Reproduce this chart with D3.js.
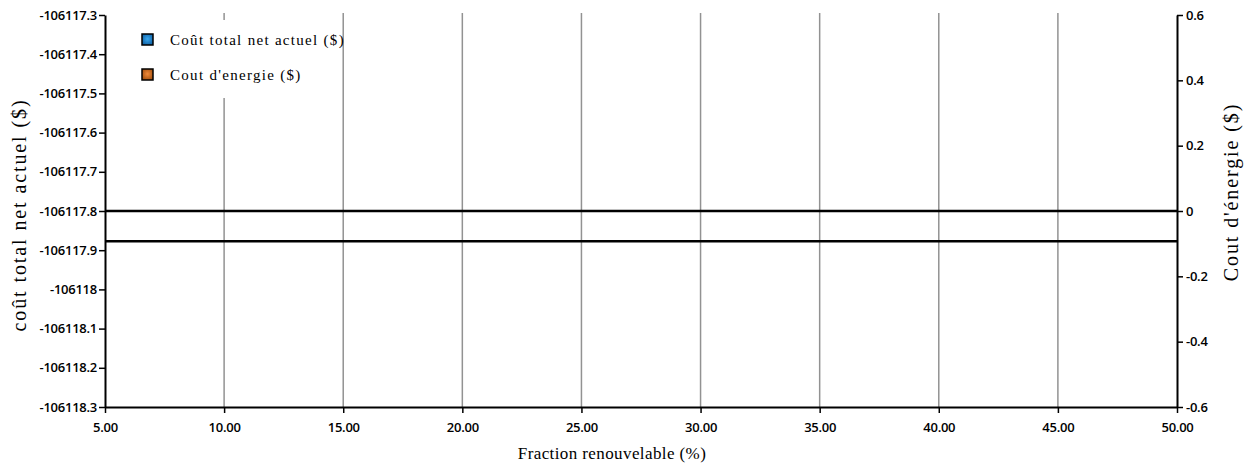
<!DOCTYPE html>
<html>
<head>
<meta charset="utf-8">
<script src="https://cdn.jsdelivr.net/npm/d3@7"></script>
<style>
  html, body { margin: 0; padding: 0; background: #fff; }
  svg { display: block; }
  .tick text { font-family: "Open Sans", "Liberation Sans", sans-serif; font-size: 13px; font-weight: 600; fill: #000; letter-spacing: -0.25px; }
  .title { font-family: "Liberation Serif", "DejaVu Serif", serif; fill: #000; }
  .xtitle { font-size: 17px; letter-spacing: 0.4px; }
  .ytitle { font-size: 20px; letter-spacing: 1.9px; }
  .legend text { font-family: "Liberation Serif", "DejaVu Serif", serif; font-size: 15px; letter-spacing: 1.3px; fill: #000; }
</style>
</head>
<body>
<svg id="chart" width="1248" height="470"></svg>
<script>
// Renewable fraction (%) on the x axis
const fractions = [5, 10, 15, 20, 25, 30, 35, 40, 45, 50];
// Net present cost ($), left axis
const netPresentCost = [-106117.877, -106117.877, -106117.877, -106117.877, -106117.877,
                        -106117.877, -106117.877, -106117.877, -106117.877, -106117.877];
// Energy cost ($), right axis
const energyCost = [0, 0, 0, 0, 0, 0, 0, 0, 0, 0];

const xTicks = [5, 10, 15, 20, 25, 30, 35, 40, 45, 50];
const leftTicks = [-106117.3, -106117.4, -106117.5, -106117.6, -106117.7, -106117.8,
                   -106117.9, -106118, -106118.1, -106118.2, -106118.3];
const rightTicks = [0.6, 0.4, 0.2, 0, -0.2, -0.4, -0.6];

const seriesNames = ["Coût total net actuel ($)", "Cout d'energie ($)"];
const seriesColors = [["#3aa8f0", "#0b5a9c"], ["#f08a3a", "#9c4a0b"]];

const svg = d3.select("#chart");
const plotLeft = 105, plotRight = 1177, plotTop = 15, plotBottom = 407;

const x = d3.scaleLinear().domain([5, 50]).range([plotLeft, plotRight]);
const yL = d3.scaleLinear().domain([-106118.3, -106117.3]).range([plotBottom, plotTop]);
const yR = d3.scaleLinear().domain([-0.6, 0.6]).range([plotBottom, plotTop]);

// glossy fills for the legend swatches
const defs = svg.append("defs");
seriesColors.forEach((c, i) => {
  const g = defs.append("radialGradient").attr("id", "swatch" + i)
    .attr("cx", "50%").attr("cy", "45%").attr("r", "65%");
  g.append("stop").attr("offset", "0%").attr("stop-color", c[0]);
  g.append("stop").attr("offset", "100%").attr("stop-color", c[1]);
});

// vertical grid lines at each interior x tick
svg.append("g")
  .selectAll("line")
  .data(xTicks.filter(d => d > 5 && d < 50))
  .join("line")
  .attr("x1", d => x(d)).attr("x2", d => x(d))
  .attr("y1", plotTop - 2).attr("y2", plotBottom)
  .attr("stroke", "#929292").attr("stroke-width", 1.5);

// series lines
const lineL = d3.line().x((d, i) => x(fractions[i])).y(d => yL(d));
const lineR = d3.line().x((d, i) => x(fractions[i])).y(d => yR(d));
svg.append("path").datum(netPresentCost).attr("d", lineL)
  .attr("fill", "none").attr("stroke", "#000").attr("stroke-width", 2.5);
svg.append("path").datum(energyCost).attr("d", lineR)
  .attr("fill", "none").attr("stroke", "#000").attr("stroke-width", 2.5);

// axes (plain hyphen for negative numbers)
const fmt1 = d => String(+d.toFixed(1));
const gx = svg.append("g").attr("transform", `translate(0,${plotBottom})`)
  .call(d3.axisBottom(x).tickValues(xTicks).tickFormat(d => d.toFixed(2)).tickSize(6).tickSizeOuter(0));
const gl = svg.append("g").attr("transform", `translate(${plotLeft},0)`)
  .call(d3.axisLeft(yL).tickValues(leftTicks).tickFormat(fmt1).tickSize(6).tickSizeOuter(0));
const gr = svg.append("g").attr("transform", `translate(${plotRight},0)`)
  .call(d3.axisRight(yR).tickValues(rightTicks).tickFormat(fmt1).tickSize(6).tickSizeOuter(0));

[gx, gl, gr].forEach(g => {
  g.select(".domain").attr("stroke", "#000").attr("stroke-width", 2);
  g.selectAll(".tick line").attr("stroke", "#000").attr("stroke-width", 1.5);
});
gx.selectAll(".tick text").attr("dy", "1.2em");
gl.selectAll(".tick text").attr("x", -8);
gr.selectAll(".tick text").attr("x", 9);

// axis titles
svg.append("text").attr("class", "title xtitle")
  .attr("transform", "translate(612,459)")
  .attr("text-anchor", "middle").text("Fraction renouvelable (%)");
svg.append("text").attr("class", "title ytitle")
  .attr("transform", "translate(26,215) rotate(-90)")
  .attr("text-anchor", "middle").text("coût total net actuel ($)");
svg.append("text").attr("class", "title ytitle")
  .attr("transform", "translate(1238,192) rotate(-90)")
  .attr("text-anchor", "middle").text("Cout d'énergie ($)");

// legend
const legend = svg.append("g").attr("class", "legend");
legend.append("rect").attr("x", 130).attr("y", 20).attr("width", 142).attr("height", 78).attr("fill", "#fff");
const items = legend.selectAll("g.item").data(seriesNames).join("g")
  .attr("class", "item")
  .attr("transform", (d, i) => `translate(142,${34 + i * 35})`);
items.append("rect").attr("width", 11).attr("height", 11)
  .attr("fill", (d, i) => `url(#swatch${i})`).attr("stroke", "#000").attr("stroke-width", 1.5);
items.append("text").attr("x", 28).attr("y", 11).text(d => d);
</script>
</body>
</html>
